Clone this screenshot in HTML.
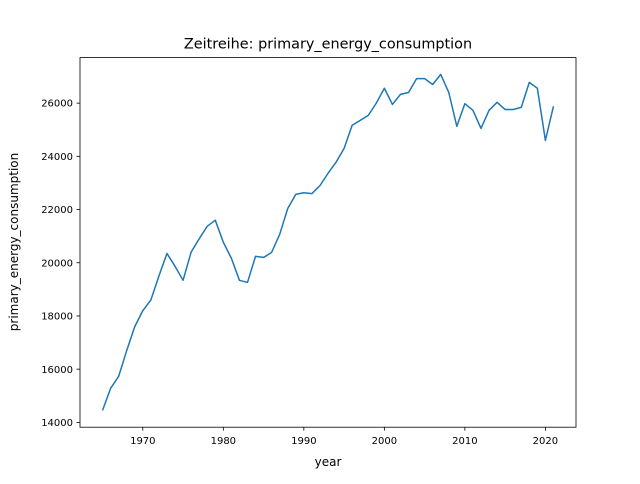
<!DOCTYPE html>
<html><head><meta charset="utf-8"><style>
body{margin:0;background:#fff;font-family:"DejaVu Sans","Liberation Sans",sans-serif}
</style></head><body>
<svg id="chart" width="640" height="480" xmlns="http://www.w3.org/2000/svg" font-family="DejaVu Sans, Liberation Sans, sans-serif">
<rect width="640" height="480" fill="#fff"/>
<text x="328" y="48.5" font-size="14.4" text-anchor="middle">Zeitreihe: primary_energy_consumption</text>
<text x="328" y="466" font-size="12" text-anchor="middle">year</text>
<text transform="translate(18,242) rotate(-90)" font-size="12" text-anchor="middle">primary_energy_consumption</text>
<g id="ticks"></g>
<path id="series" fill="none" stroke="#1f77b4" stroke-width="1.5" stroke-linejoin="round"/>
<rect x="80" y="57.6" width="496" height="369.6" fill="none" stroke="#000" stroke-width="0.8"/>
</svg>
<script>
const years=[1965,1966,1967,1968,1969,1970,1971,1972,1973,1974,1975,1976,1977,1978,1979,1980,1981,1982,1983,1984,1985,1986,1987,1988,1989,1990,1991,1992,1993,1994,1995,1996,1997,1998,1999,2000,2001,2002,2003,2004,2005,2006,2007,2008,2009,2010,2011,2012,2013,2014,2015,2016,2017,2018,2019,2020,2021];
const values=[14450,15280,15730,16700,17600,18200,18600,19500,20350,19870,19340,20400,20900,21370,21600,20770,20170,19340,19260,20240,20200,20390,21070,22040,22570,22630,22600,22900,23360,23780,24300,25170,25350,25540,26000,26560,25950,26330,26400,26920,26920,26700,27080,26400,25130,25980,25730,25050,25730,26030,25760,25760,25840,26780,26560,24600,25880];
const xTicks=[1970,1980,1990,2000,2010,2020];
const yTicks=[14000,16000,18000,20000,22000,24000,26000];
const L=80,R=576,T=57.6,B=427.2;
const xmin0=Math.min(...years),xmax0=Math.max(...years),xm=(xmax0-xmin0)*0.05;
const ymin0=Math.min(...values),ymax0=Math.max(...values),ym=(ymax0-ymin0)*0.05;
const xs=v=>L+(v-(xmin0-xm))/((xmax0+xm)-(xmin0-xm))*(R-L);
const ys=v=>B-(v-(ymin0-ym))/((ymax0+ym)-(ymin0-ym))*(B-T);
const NS="http://www.w3.org/2000/svg";
const g=document.getElementById('ticks');
function mk(tag,attrs,txt){const e=document.createElementNS(NS,tag);for(const k in attrs)e.setAttribute(k,attrs[k]);if(txt!==undefined)e.textContent=txt;g.appendChild(e);return e;}
xTicks.forEach(t=>{const x=xs(t);
const l=mk('line',{x1:x,x2:x,y1:B,y2:B+3.5,stroke:'#000','stroke-width':0.8});


const s=mk('text',{x:x,y:B+17,'font-size':10,'text-anchor':'middle'},String(t));

});
yTicks.forEach(t=>{const y=ys(t);
const l=mk('line',{x1:L-3.5,x2:L,y1:y,y2:y,stroke:'#000','stroke-width':0.8});


const s=mk('text',{x:L-7,y:y+3.6,'font-size':10,'text-anchor':'end'},String(t));

});
document.getElementById('series').setAttribute('d',years.map((yr,i)=>(i?'L':'M')+xs(yr).toFixed(2)+','+ys(values[i]).toFixed(2)).join(''));
</script>
</body></html>
